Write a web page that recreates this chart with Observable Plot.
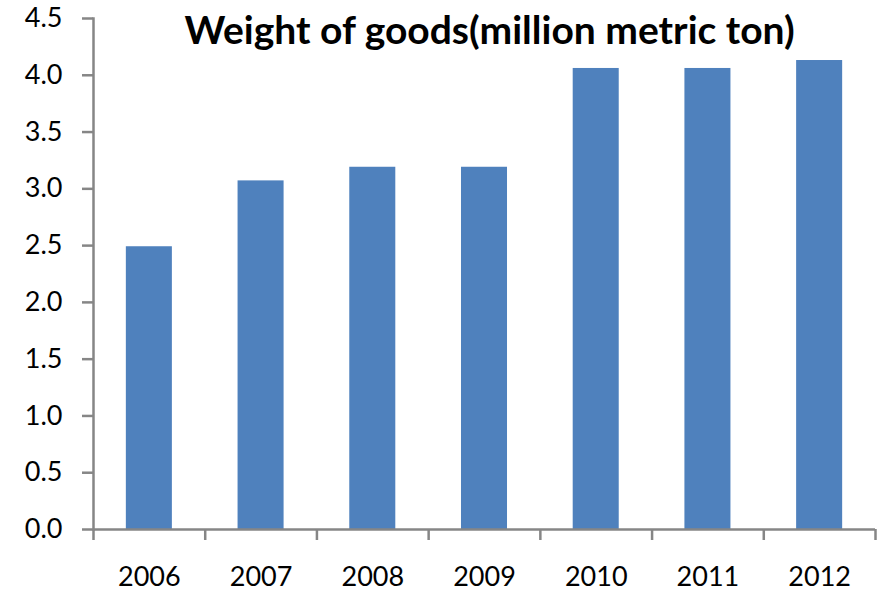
<!DOCTYPE html>
<html>
<head>
<meta charset="utf-8">
<script src="https://cdn.jsdelivr.net/npm/d3@7"></script>
<script src="https://cdn.jsdelivr.net/npm/@observablehq/plot@0.6"></script>
<style>
  html, body { margin: 0; padding: 0; background: #fff; }
  #chart svg { display: block; }
</style>
</head>
<body>
<div id="chart"></div>
<script>
// Yearly weight of goods, million metric tons
const years = [2006, 2007, 2008, 2009, 2010, 2011, 2012];
const weights = [2.49, 3.07, 3.19, 3.19, 4.06, 4.06, 4.13];
const yTicks = [0, 0.5, 1.0, 1.5, 2.0, 2.5, 3.0, 3.5, 4.0, 4.5];
const yearBounds = [2005.5, 2006.5, 2007.5, 2008.5, 2009.5, 2010.5, 2011.5, 2012.5];
const chartTitle = "Weight of goods(million metric ton)";

const data = years.map((year, i) => ({year, value: weights[i]}));

const axisGray = "#868686";
const font = "Lato, 'Open Sans', sans-serif";

const chart = Plot.plot({
  width: 885,
  height: 592,
  marginLeft: 93,
  marginRight: 10,
  marginTop: 18,
  marginBottom: 63,
  style: {fontFamily: font, background: "#fff", color: "#000"},
  x: {domain: [2005.5, 2012.5]},
  y: {domain: [0, 4.5]},
  marks: [
    // one bar per year, centred on the year
    Plot.rectY(data, {
      x1: d => d.year - 0.206,
      x2: d => d.year + 0.206,
      y: "value",
      fill: "#4F81BD"
    }),
    // axis lines
    Plot.frame({anchor: "left", stroke: axisGray, strokeWidth: 2.5}),
    Plot.ruleY([0], {stroke: axisGray, strokeWidth: 2.5}),
    Plot.axisY(yTicks, {
      tickSize: 11,
      tickPadding: 20,
      tickFormat: d3.format(".1f"),
      stroke: axisGray,
      strokeWidth: 2.5,
      fill: "#000",
      fontSize: 27,
      label: null
    }),
    // category separators below the baseline
    Plot.axisX(yearBounds, {
      tickSize: 11,
      tickFormat: () => "",
      stroke: axisGray,
      strokeWidth: 2.5,
      label: null
    }),
    // year labels
    Plot.axisX(years, {
      tickSize: 0,
      tickPadding: 37,
      tickFormat: d => String(d),
      fill: "#000",
      fontSize: 27,
      label: null
    }),
    Plot.text([chartTitle], {
      frameAnchor: "top",
      dx: 5,
      dy: 13,
      lineAnchor: "middle",
      fontSize: 39,
      fontWeight: "bold",
      fill: "#000"
    })
  ]
});

document.getElementById("chart").append(chart);
</script>
</body>
</html>
